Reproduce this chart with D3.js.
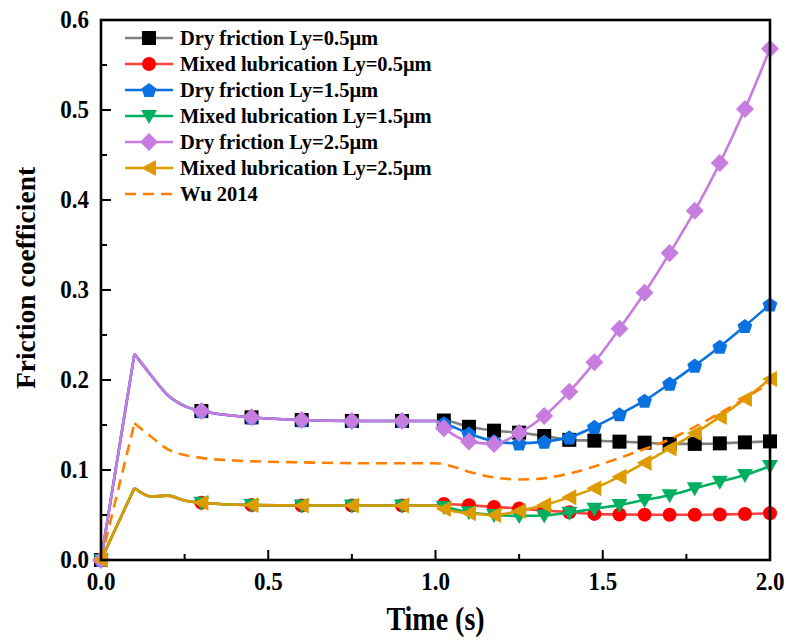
<!DOCTYPE html>
<html>
<head>
<meta charset="utf-8">
<script src="https://cdn.jsdelivr.net/npm/d3@7"></script>
<style>
  body { margin: 0; background: #fff; }
  text { font-family: "Liberation Serif", "Times New Roman", serif; font-weight: bold; fill: #000; }
</style>
</head>
<body>
<svg id="chart"></svg>
<script>
// time points of the simulated curves (markers sit on a subset of them)
const lineTimes = [0, 0.1, 0.15, 0.2, 0.25, 0.3, 0.45, 0.6, 0.75, 0.9, 1.0,
  1.025, 1.1, 1.175, 1.25, 1.325, 1.4, 1.475, 1.55, 1.625, 1.7, 1.775, 1.85, 1.925, 2.0];
const markerTimes = [0, 0.3, 0.45, 0.6, 0.75, 0.9,
  1.025, 1.1, 1.175, 1.25, 1.325, 1.4, 1.475, 1.55, 1.625, 1.7, 1.775, 1.85, 1.925, 2.0];

// shared start of the curves, t = 0 .. 1.0
const dryStart = [0, 0.229, 0.205, 0.183, 0.171, 0.1655, 0.1585, 0.1555, 0.1545, 0.1545, 0.1545];
const mixedStart = [0, 0.080, 0.0705, 0.0715, 0.066, 0.0637, 0.061, 0.0605, 0.0605, 0.0605, 0.0605];

// t = 1.025 .. 2.0
const dry05 = [0.155, 0.148, 0.1437, 0.1415, 0.1378, 0.1335, 0.1326, 0.1315, 0.1304, 0.129, 0.129, 0.1296, 0.1307, 0.1318];
const mixed05 = [0.0622, 0.0608, 0.059, 0.0572, 0.055, 0.053, 0.0512, 0.0506, 0.0504, 0.0503, 0.0503, 0.0506, 0.0511, 0.0519];
const dry15 = [0.152, 0.1405, 0.132, 0.1296, 0.1315, 0.1363, 0.148, 0.162, 0.177, 0.196, 0.216, 0.237, 0.26, 0.284];
const mixed15 = [0.059, 0.053, 0.050, 0.049, 0.0495, 0.0526, 0.057, 0.061, 0.0667, 0.072, 0.0796, 0.087, 0.0944, 0.1044];
const dry25 = [0.1465, 0.1318, 0.129, 0.141, 0.16, 0.187, 0.2196, 0.257, 0.297, 0.341, 0.388, 0.441, 0.501, 0.568];
const mixed25 = [0.0567, 0.052, 0.050, 0.0545, 0.061, 0.0696, 0.0796, 0.0926, 0.108, 0.124, 0.1407, 0.159, 0.179, 0.201];

// Wu 2014 reference curve
const wuTimes = [0, 0.1, 0.15, 0.2, 0.3, 0.4, 0.6, 0.8, 1.0, 1.05, 1.1, 1.2, 1.25, 1.3, 1.4, 1.5, 1.6, 1.7, 1.8, 1.9, 2.0];
const wuValues = [0, 0.152, 0.137, 0.123, 0.1135, 0.1105, 0.1085, 0.1075, 0.1075, 0.104, 0.098, 0.0905, 0.0895, 0.090, 0.096, 0.107, 0.120, 0.134, 0.153, 0.174, 0.197];

const xTicks = [0, 0.5, 1.0, 1.5, 2.0];
const yTicks = [0, 0.1, 0.2, 0.3, 0.4, 0.5, 0.6];

const series = [
  { name: "Dry friction Ly=0.5\u03bcm", values: dryStart.concat(dry05), line: "#808080", fill: "#000000", symbol: "square" },
  { name: "Mixed lubrication Ly=0.5\u03bcm", values: mixedStart.concat(mixed05), line: "#ff4040", fill: "#ff0000", symbol: "circle" },
  { name: "Dry friction Ly=1.5\u03bcm", values: dryStart.concat(dry15), line: "#0a72e0", fill: "#0a72e0", symbol: "pentagon" },
  { name: "Mixed lubrication Ly=1.5\u03bcm", values: mixedStart.concat(mixed15), line: "#00b060", fill: "#00b060", symbol: "down" },
  { name: "Dry friction Ly=2.5\u03bcm", values: dryStart.concat(dry25), line: "#c77ce0", fill: "#c77ce0", symbol: "diamond" },
  { name: "Mixed lubrication Ly=2.5\u03bcm", values: mixedStart.concat(mixed25), line: "#dc9c00", fill: "#dc9c00", symbol: "left" }
];

const W = 786, H = 642;
const margin = { left: 101, right: 16, top: 20, bottom: 82 };
const width = W - margin.left - margin.right;
const height = H - margin.top - margin.bottom;

const svg = d3.select("#chart").attr("width", W).attr("height", H);
const g = svg.append("g").attr("transform", `translate(${margin.left},${margin.top})`);

const x = d3.scaleLinear().domain([0, 2]).range([0, width]);
const y = d3.scaleLinear().domain([0, 0.6]).range([height, 0]);

// symbol paths, centred on 0,0
function symbolPath(type) {
  const s = 7;
  switch (type) {
    case "square": return `M${-s},${-s}H${s}V${s}H${-s}Z`;
    case "circle": return d3.symbol(d3.symbolCircle, Math.PI * 7 * 7)();
    case "pentagon": {
      const r = 7.8;
      return "M" + d3.range(5).map(i => {
        const a = -Math.PI / 2 + i * 2 * Math.PI / 5;
        return [r * Math.cos(a), r * Math.sin(a) + 0.8];
      }).join("L") + "Z";
    }
    case "down": return `M${-8},${-6}L${8},${-6}L0,${8}Z`;
    case "diamond": return `M0,${-9}L${9},0L0,${9}L${-9},0Z`;
    case "left": return `M${-8},0L${7},${-8}L${7},${8}Z`;
  }
}

const smooth = d3.line().x(d => x(d[0])).y(d => y(d[1])).curve(d3.curveMonotoneX);
const straight = d3.line().x(d => x(d[0])).y(d => y(d[1]));

series.forEach(s => {
  const pts = lineTimes.map((t, i) => [t, s.values[i]]);
  const sg = g.append("g");
  sg.append("path").attr("d", straight(pts.slice(0, 2)))
    .attr("fill", "none").attr("stroke", s.line).attr("stroke-width", 2.6);
  sg.append("path").attr("d", smooth(pts.slice(1)))
    .attr("fill", "none").attr("stroke", s.line).attr("stroke-width", 2.6);
  sg.selectAll("path.m")
    .data(pts.filter(p => markerTimes.includes(p[0])))
    .join("path")
    .attr("class", "m")
    .attr("d", symbolPath(s.symbol))
    .attr("transform", d => `translate(${x(d[0])},${y(d[1])})`)
    .attr("fill", s.fill);
});

// Wu 2014 dashed curve
const wuPts = wuTimes.map((t, i) => [t, wuValues[i]]);
g.append("path").attr("d", straight(wuPts.slice(0, 2)) + smooth(wuPts.slice(1)))
  .attr("fill", "none").attr("stroke", "#ff8000").attr("stroke-width", 2.6)
  .attr("stroke-dasharray", "11,7");

// axes: inward ticks, frame
const minorX = d3.range(0, 2.01, 0.25);
const minorY = d3.range(0, 0.601, 0.05);
g.append("g").selectAll("line").data(minorX).join("line")
  .attr("x1", d => x(d)).attr("x2", d => x(d))
  .attr("y1", height).attr("y2", d => height - (xTicks.some(t => Math.abs(t - d) < 1e-6) ? 10 : 6))
  .attr("stroke", "#000").attr("stroke-width", 2);
g.append("g").selectAll("line").data(minorY).join("line")
  .attr("y1", d => y(d)).attr("y2", d => y(d))
  .attr("x1", 0).attr("x2", d => (yTicks.some(t => Math.abs(t - d) < 1e-6) ? 10 : 6))
  .attr("stroke", "#000").attr("stroke-width", 2);

g.append("rect").attr("x", 0).attr("y", 0).attr("width", width).attr("height", height)
  .attr("fill", "none").attr("stroke", "#000").attr("stroke-width", 2.6);

// tick labels, slightly tall like the original
g.append("g").selectAll("text").data(xTicks).join("text")
  .attr("transform", d => `translate(${x(d)},${height + 30}) scale(1,1.12)`)
  .attr("text-anchor", "middle").attr("font-size", 23)
  .text(d => d3.format(".1f")(d));
g.append("g").selectAll("text").data(yTicks).join("text")
  .attr("transform", d => `translate(-12,${y(d) + 8}) scale(1,1.12)`)
  .attr("text-anchor", "end").attr("font-size", 23)
  .text(d => d3.format(".1f")(d));

g.append("text").attr("transform", `translate(${width / 2},${height + 70}) scale(1,1.18)`)
  .attr("text-anchor", "middle").attr("font-size", 28).text("Time (s)");
g.append("text").attr("transform", `translate(-66,${height / 2 - 12}) rotate(-90)`)
  .attr("text-anchor", "middle").attr("font-size", 27.5).text("Friction coefficient");

// legend
const legendItems = series.concat([{ name: "Wu 2014", line: "#ff8000", dashed: true }]);
const lg = svg.append("g").attr("transform", "translate(125,38)");
legendItems.forEach((s, i) => {
  const row = lg.append("g").attr("transform", `translate(0,${i * 26})`);
  row.append("line").attr("x1", 0).attr("x2", 48).attr("y1", 0).attr("y2", 0)
    .attr("stroke", s.line).attr("stroke-width", 2.6)
    .attr("stroke-dasharray", s.dashed ? "11,7" : null);
  if (s.symbol) {
    row.append("path").attr("d", symbolPath(s.symbol))
      .attr("transform", "translate(24,0)").attr("fill", s.fill);
  }
  row.append("text").attr("x", 55).attr("y", 7).attr("font-size", 20.5).text(s.name);
});
</script>
</body>
</html>
